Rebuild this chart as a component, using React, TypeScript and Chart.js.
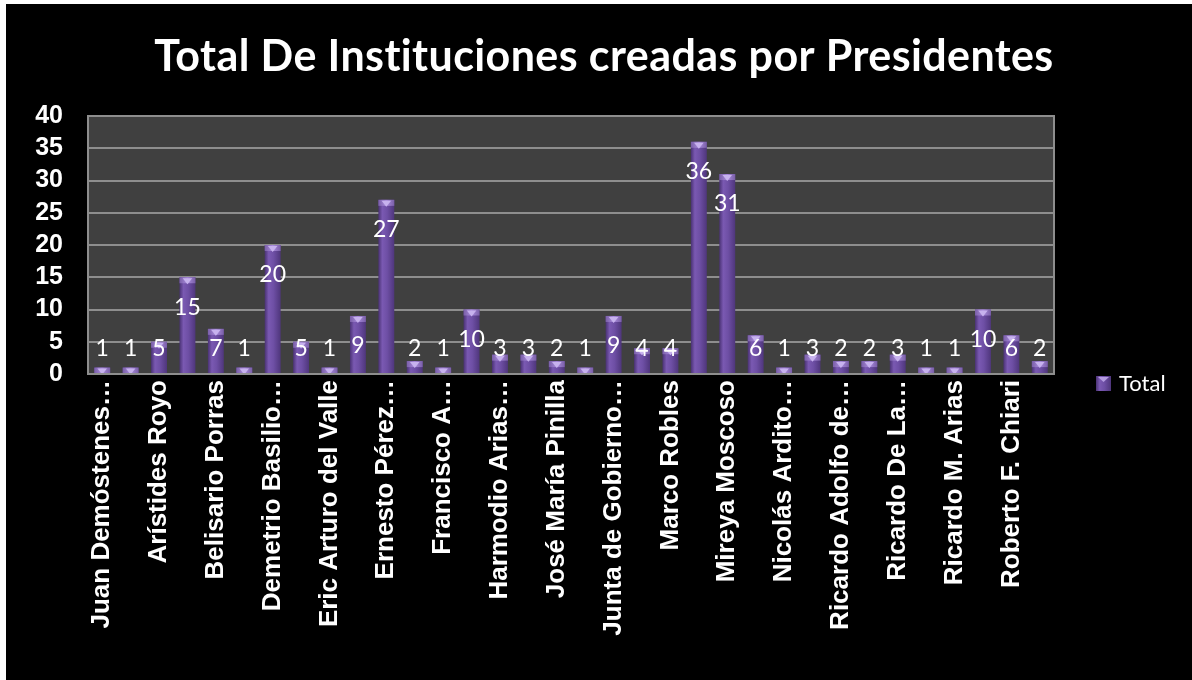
import React, { useEffect, useRef } from "react";
import { Chart, registerables } from "chart.js";

Chart.register(...registerables);

const categories: string[] = [
  "Juan Demóstenes…",
  "Alcibíades Arosemena",
  "Arístides Royo",
  "Arnulfo Arias Madrid",
  "Belisario Porras",
  "Carlos A. Mendoza",
  "Demetrio Basilio…",
  "Enrique A. Jiménez",
  "Eric Arturo del Valle",
  "Ernesto de la Guardia",
  "Ernesto Pérez…",
  "Florencio H. Arosemena",
  "Francisco A…",
  "Guillermo Endara",
  "Harmodio Arias…",
  "José Antonio Remón",
  "José María Pinilla",
  "Juan Carlos Varela",
  "Junta de Gobierno…",
  "Manuel Amador Guerrero",
  "Marco Robles",
  "Martín Torrijos",
  "Mireya Moscoso",
  "Nicanor de Obarrio",
  "Nicolás Ardito…",
  "Omar Torrijos Herrera",
  "Ricardo Adolfo de…",
  "Ricardo Arias Espinosa",
  "Ricardo De La…",
  "Ricardo J. Alfaro",
  "Ricardo M. Arias",
  "Ricardo Martinelli",
  "Roberto F. Chiari",
  "Rodolfo Chiari",
];

const totals: number[] = [
  1, 1, 5, 15, 7, 1, 20, 5, 1, 9, 27, 2, 1, 10, 3, 3, 2, 1, 9, 4, 4, 36, 31, 6,
  1, 3, 2, 2, 3, 1, 1, 10, 6, 2,
];

const seriesName = "Total";
const titleText = "Total De Instituciones creadas por Presidentes";
const yTicks: number[] = [0, 5, 10, 15, 20, 25, 30, 35, 40];

const GRID = "#8e8e8e";
const PLOT_BG = "#404040";

function barGradient(ctx: CanvasRenderingContext2D, x: number, w: number) {
  const g = ctx.createLinearGradient(x - w / 2, 0, x + w / 2, 0);
  g.addColorStop(0, "#4a3274");
  g.addColorStop(0.25, "#7a59b2");
  g.addColorStop(0.55, "#6e4fa5");
  g.addColorStop(1, "#4f367c");
  return g;
}

export default function App() {
  const ref = useRef<HTMLCanvasElement | null>(null);

  useEffect(() => {
    if (!ref.current) return;
    const plotBg = {
      id: "plotBg",
      beforeDraw(chart: any) {
        const { ctx, chartArea: a } = chart;
        ctx.save();
        ctx.fillStyle = PLOT_BG;
        ctx.fillRect(a.left, a.top, a.right - a.left, a.bottom - a.top);
        ctx.restore();
      },
      afterDraw(chart: any) {
        const { ctx, chartArea: a } = chart;
        ctx.save();
        ctx.strokeStyle = GRID;
        ctx.lineWidth = 2;
        ctx.strokeRect(a.left, a.top, a.right - a.left, a.bottom - a.top);
        // title
        ctx.fillStyle = "#ffffff";
        ctx.font = "bold 43px Lato";
        ctx.textAlign = "center";
        ctx.textBaseline = "alphabetic";
        (ctx as any).letterSpacing = "0.4px";
        ctx.fillText(titleText, 598, 67);
        (ctx as any).letterSpacing = "0px";
        // legend
        const lx = 1090;
        const ly = 372;
        const s = 15;
        ctx.fillStyle = barGradient(ctx, lx + s / 2, s);
        ctx.fillRect(lx, ly, s, s);
        ctx.fillStyle = "#b49be0";
        ctx.beginPath();
        ctx.moveTo(lx + 2, ly + 1);
        ctx.lineTo(lx + s - 2, ly + 1);
        ctx.lineTo(lx + s / 2, ly + 6);
        ctx.closePath();
        ctx.fill();
        ctx.fillStyle = "#ffffff";
        ctx.font = "22px Lato";
        ctx.textBaseline = "middle";
        ctx.textAlign = "left";
        ctx.fillText(seriesName, lx + 23, ly + 8);
        ctx.restore();
      },
    };
    const capsAndLabels = {
      id: "capsAndLabels",
      afterDatasetsDraw(chart: any) {
        const { ctx } = chart;
        const meta = chart.getDatasetMeta(0);
        const yScale = chart.scales.y;
        ctx.save();
        meta.data.forEach((el: any, i: number) => {
          const { x, y, width } = el.getProps(["x", "y", "width"], true);
          const w = width;
          const capH = 6;
          const cg = ctx.createLinearGradient(x - w / 2, 0, x + w / 2, 0);
          cg.addColorStop(0, "#7a5fa8");
          cg.addColorStop(0.5, "#a98bdc");
          cg.addColorStop(1, "#7a5fa8");
          ctx.fillStyle = cg;
          ctx.fillRect(x - w / 2, y, w, capH);
          ctx.fillStyle = "#c7b2ee";
          ctx.beginPath();
          ctx.moveTo(x - w * 0.3, y + 1);
          ctx.lineTo(x + w * 0.3, y + 1);
          ctx.lineTo(x, y + capH + 1);
          ctx.closePath();
          ctx.fill();
          const v = totals[i];
          const cy = Math.min(yScale.getPixelForValue(v) + 30, yScale.getPixelForValue(4));
          ctx.fillStyle = "#ffffff";
          ctx.font = "23px Lato";
          ctx.textAlign = "center";
          ctx.textBaseline = "middle";
          ctx.fillText(String(v), x, cy);
        });
        ctx.restore();
      },
    };

    const chart = new Chart(ref.current, {
      type: "bar",
      data: {
        labels: categories,
        datasets: [
          {
            label: seriesName,
            data: totals,
            backgroundColor: (c: any) => {
              const ch = c.chart;
              if (!ch.chartArea || !ch.scales.x) return "#6c4ea1";
              const xs = ch.scales.x;
              const x = xs.getPixelForValue(c.dataIndex);
              const w = ((xs.right - xs.left) / categories.length) * 0.56;
              return barGradient(ch.ctx, x, w);
            },
            borderWidth: 0,
            barPercentage: 0.56,
            categoryPercentage: 1,
          },
        ],
      },
      options: {
        animation: false,
        responsive: false,
        maintainAspectRatio: false,
        layout: { padding: { left: 0, right: 138, top: 112, bottom: 0 } },
        plugins: {
          legend: { display: false },
          tooltip: { enabled: false },
          title: { display: false },
        },
        scales: {
          x: {
            grid: { display: false, drawTicks: false },
            border: { display: false },
            ticks: {
              autoSkip: false,
              minRotation: 90,
              maxRotation: 90,
              padding: 6,
              color: "#ffffff",
              font: { family: "Liberation Sans", size: 26, weight: "bold" },
              callback: (_v: any, i: number) => (i % 2 === 0 ? categories[i] : ""),
            },
            afterFit: (s: any) => {
              s.height = 306;
            },
          },
          y: {
            min: 0,
            max: 40,
            afterBuildTicks: (s: any) => {
              s.ticks = yTicks.map((v) => ({ value: v }));
            },
            grid: { color: GRID, lineWidth: 2, drawTicks: false },
            border: { display: false },
            ticks: {
              autoSkip: false,
              padding: 25,
              color: "#ffffff",
              font: { family: "Liberation Sans", size: 25, weight: "bold" },
            },
            afterFit: (s: any) => {
              s.width = 82;
            },
          },
        },
      },
      plugins: [plotBg, capsAndLabels],
    });
    return () => chart.destroy();
  }, []);

  return (
    <div style={{ position: "fixed", left: 0, top: 0, width: 1192, height: 680, background: "#ffffff", overflow: "hidden" }}>
      <div style={{ position: "absolute", left: 6, top: 4, width: 1186, height: 676, background: "#000000" }}>
        <canvas ref={ref} width={1186} height={676} style={{ display: "block", width: 1186, height: 676 }} />
      </div>
    </div>
  );
}
